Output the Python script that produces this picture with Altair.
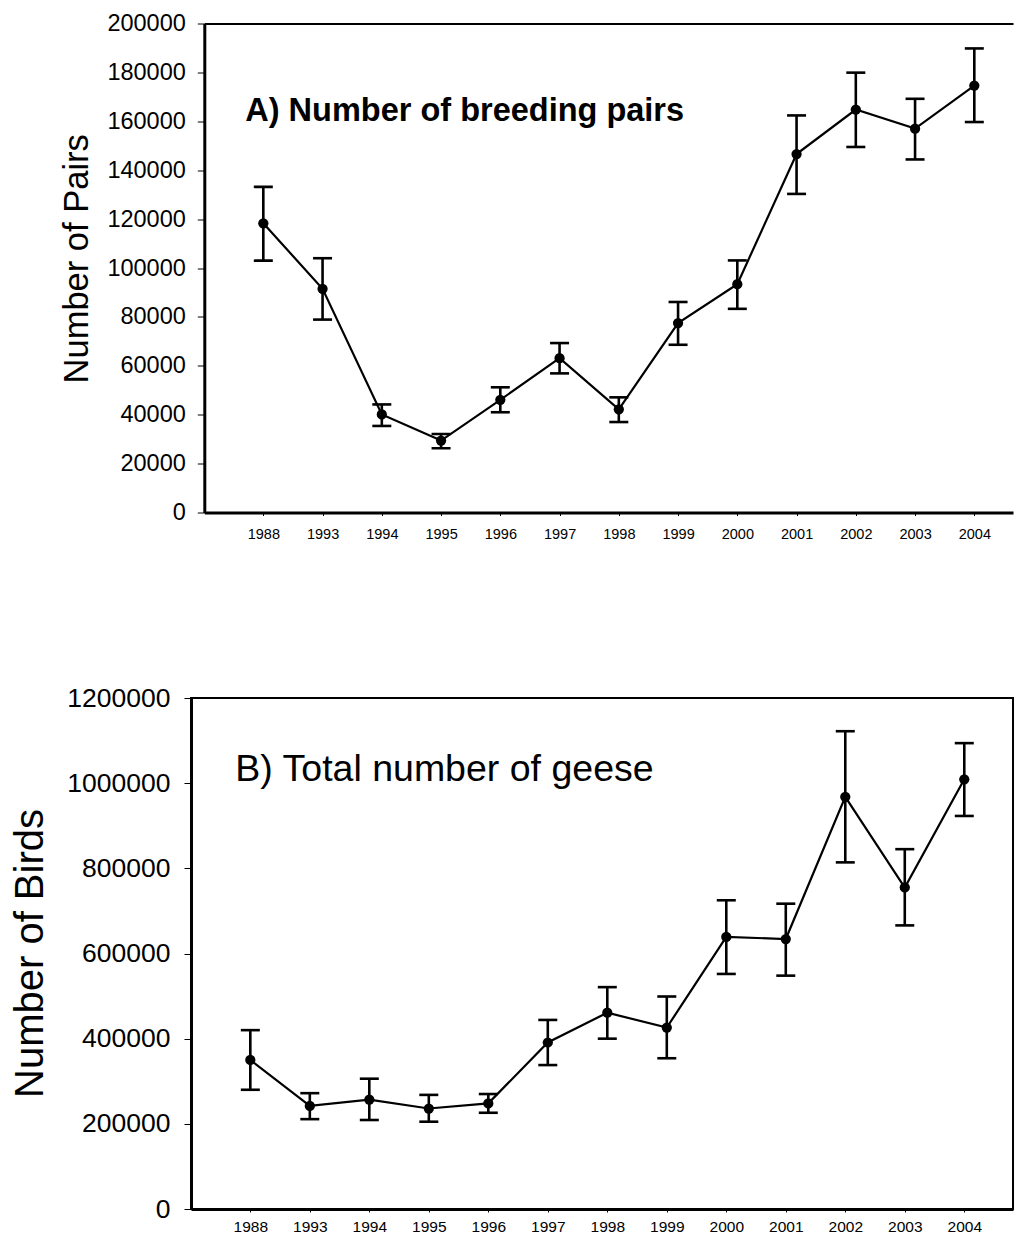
import altair as alt
import pandas as pd

years = ["1988", "1993", "1994", "1995", "1996", "1997", "1998",
         "1999", "2000", "2001", "2002", "2003", "2004"]

pairs = [118300, 91500, 40100, 29400, 46100, 63100, 42200,
         77500, 93400, 146600, 164800, 157000, 174600]
pairs_lo = [103000, 78900, 35400, 26300, 41000, 56900, 37000,
            68600, 83300, 130300, 149500, 144400, 159700]
pairs_hi = [133200, 104000, 44200, 32100, 51200, 69300, 47100,
            86100, 103100, 162400, 179900, 169200, 189800]

geese = [350000, 242000, 257000, 236000, 248000, 391000, 461000,
         426000, 639000, 634000, 968000, 755000, 1009000]
geese_lo = [280000, 211000, 209000, 205000, 226000, 338000, 400000,
            354000, 552000, 548000, 814000, 666000, 923000]
geese_hi = [420000, 272000, 306000, 268000, 270000, 444000, 521000,
            499000, 725000, 717000, 1122000, 845000, 1094000]

title_a = "A) Number of breeding pairs"
title_b = "B) Total number of geese"
ytitle_a = "Number of Pairs"
ytitle_b = "Number of Birds"

FONT = "Liberation Sans"

df_a = pd.DataFrame({"year": years, "v": pairs, "lo": pairs_lo, "hi": pairs_hi})
df_b = pd.DataFrame({"year": years, "v": geese, "lo": geese_lo, "hi": geese_hi})

W = 822


def panel(df, height, xscale, ymax, ystep, ytitle, ytitle_size, title_x, title_y,
          ylab_size, ylab_pad, yoffset, xlab_size, xlab_pad, label, label_size,
          label_weight, lab_x, lab_y, top_border):
    xaxis = alt.Axis(title=None, labelAngle=0, labelFont=FONT,
                     labelFontSize=xlab_size, labelColor="black",
                     labelPadding=xlab_pad, tickSize=3, tickColor="black",
                     tickWidth=1, domainColor="black", domainWidth=3, grid=False)
    x_main = alt.X("year:O", sort=years, scale=xscale, axis=xaxis)
    x = alt.X("year:O", sort=years, scale=xscale)
    yscale = alt.Scale(domain=[0, ymax], nice=False)
    yaxis = alt.Axis(title=ytitle, titleFont=FONT, titleFontSize=ytitle_size,
                     titleFontWeight="normal", titleColor="black",
                     titleX=title_x, titleY=title_y, titleBaseline="alphabetic",
                     titleAngle=270, offset=yoffset,
                     values=list(range(0, ymax + 1, ystep)), format="d",
                     labelFont=FONT, labelFontSize=ylab_size, labelColor="black",
                     labelPadding=ylab_pad, tickSize=7, tickColor="black",
                     tickWidth=1, domainColor="black", domainWidth=3, grid=False)
    base = alt.Chart(df)
    line = base.mark_line(color="black", strokeWidth=2.2).encode(
        x=x_main, y=alt.Y("v:Q", scale=yscale, axis=yaxis))
    bars = base.mark_rule(color="black", strokeWidth=2.6).encode(
        x=x, y=alt.Y("lo:Q", scale=yscale), y2="hi:Q")
    cap_lo = base.mark_tick(color="black", size=19, thickness=2.6, opacity=1).encode(
        x=x, y=alt.Y("lo:Q", scale=yscale))
    cap_hi = base.mark_tick(color="black", size=19, thickness=2.6, opacity=1).encode(
        x=x, y=alt.Y("hi:Q", scale=yscale))
    pts = base.mark_point(filled=True, color="black", size=105, opacity=1).encode(
        x=x, y=alt.Y("v:Q", scale=yscale))
    txt = alt.Chart(pd.DataFrame({"t": [label]})).mark_text(
        align="left", baseline="alphabetic", font=FONT, fontSize=label_size,
        fontWeight=label_weight, color="black").encode(
        text="t:N", x=alt.value(lab_x), y=alt.value(lab_y))
    inner = alt.layer(line, bars, cap_lo, cap_hi, pts, txt)
    if top_border:
        border = base.mark_point(opacity=0).encode(
            x=alt.X("year:O", sort=years, scale=xscale,
                    axis=alt.Axis(orient="top", title=None, labels=False,
                                  ticks=False, grid=False, domainColor="black",
                                  domainWidth=2)),
            y=alt.Y("v:Q", scale=yscale))
        ch = alt.layer(inner, border).resolve_axis(x="independent").properties(
            width=W, height=height,
            view=alt.ViewBackground(stroke="transparent", strokeWidth=0))
    else:
        ch = inner.properties(
            width=W, height=height,
            view=alt.ViewBackground(stroke="black", strokeWidth=2))
    return ch


xscale_a = alt.Scale(type="point", domain=years, range=[13.3, W],
                     padding=0.8245, align=0.604)
xscale_b = alt.Scale(type="point", domain=years, padding=0.908, align=0.549)

top = panel(df_a, 489, xscale_a, 200000, 20000, ytitle_a, 34.5, -117.3, 234.8,
            23.5, 12, -13.3, 14.5, 12, title_a, 32.5, "bold", 54.3, 97.3, True)
bottom = panel(df_b, 511, xscale_b, 1200000, 200000, ytitle_b, 40, -149, 255,
               26.5, 14, 0, 15.5, 7, title_b, 37.5, "normal", 44.3, 82.5, False)

chart = alt.concat(top, bottom, columns=1, spacing=142.5).properties(
    padding={"left": 1, "top": 3.5, "right": 0, "bottom": 0}
).configure_view(stroke="transparent").configure(background="white")

chart.save("out.html", embed_options={"renderer": "svg", "actions": False})
